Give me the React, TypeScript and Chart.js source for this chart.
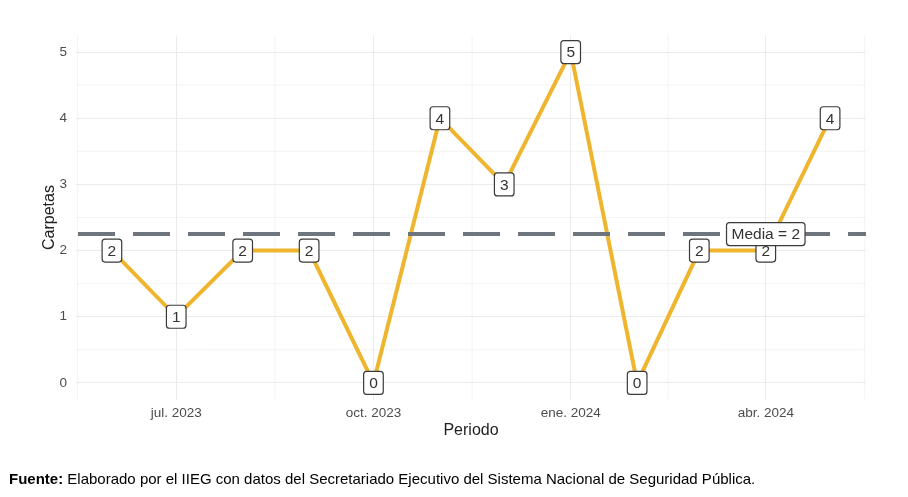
import React, { useEffect, useRef } from 'react';
import { Chart, registerables } from 'chart.js';

Chart.register(...registerables);

// ---- Data ----
const periodDates = [
  '2023-06-01', '2023-07-01', '2023-08-01', '2023-09-01', '2023-10-01', '2023-11-01',
  '2023-12-01', '2024-01-01', '2024-02-01', '2024-03-01', '2024-04-01', '2024-05-01',
];
const carpetas = [2, 1, 2, 2, 0, 4, 3, 5, 0, 2, 2, 4];
const xTickDates = ['2023-07-01', '2023-10-01', '2024-01-01', '2024-04-01'];
const xTickLabels = ['jul. 2023', 'oct. 2023', 'ene. 2024', 'abr. 2024'];
const yTicks = [0, 1, 2, 3, 4, 5];
const mediaLabel = 'Media = 2';
const mediaLabelDate = '2024-04-01';
const captionBold = 'Fuente:';
const captionText = ' Elaborado por el IIEG con datos del Secretariado Ejecutivo del Sistema Nacional de Seguridad Pública.';

const DAY = 86400000;
const t0 = Date.parse(periodDates[0]);
const toDay = (d: string) => (Date.parse(d) - t0) / DAY;
const xs = periodDates.map(toDay);
const xMajor = xTickDates.map(toDay);
const span = xs[xs.length - 1] - xs[0];
const xMin = xs[0] - span * 0.05;
const xMax = xs[xs.length - 1] + span * 0.05;
// minor breaks between majors (and extended on each side)
const xMinor: number[] = [];
{
  const step = xMajor[1] - xMajor[0];
  xMinor.push(xMajor[0] - step / 2);
  for (let i = 0; i < xMajor.length - 1; i++) xMinor.push((xMajor[i] + xMajor[i + 1]) / 2);
  xMinor.push(xMajor[xMajor.length - 1] + step / 2);
}
const yMinor = [0.5, 1.5, 2.5, 3.5, 4.5];
const mediaValue = carpetas.reduce((a, b) => a + b, 0) / carpetas.length;

const FONT = '"Liberation Sans", Arial, sans-serif';
const LINE_COLOR = '#F0B52E';
const GRID = '#ebebeb';

function roundRect(ctx: CanvasRenderingContext2D, x: number, y: number, w: number, h: number, r: number) {
  ctx.beginPath();
  ctx.moveTo(x + r, y);
  ctx.lineTo(x + w - r, y);
  ctx.quadraticCurveTo(x + w, y, x + w, y + r);
  ctx.lineTo(x + w, y + h - r);
  ctx.quadraticCurveTo(x + w, y + h, x + w - r, y + h);
  ctx.lineTo(x + r, y + h);
  ctx.quadraticCurveTo(x, y + h, x, y + h - r);
  ctx.lineTo(x, y + r);
  ctx.quadraticCurveTo(x, y, x + r, y);
  ctx.closePath();
}

function drawLabel(ctx: CanvasRenderingContext2D, text: string, cx: number, cy: number, size: number, padX: number, h: number) {
  ctx.font = `${size}px ${FONT}`;
  const w = ctx.measureText(text).width + padX * 2;
  roundRect(ctx, cx - w / 2, cy - h / 2, w, h, 3);
  ctx.fillStyle = '#ffffff';
  ctx.fill();
  ctx.lineWidth = 1.2;
  ctx.strokeStyle = '#3a3a3a';
  ctx.stroke();
  ctx.fillStyle = '#333333';
  ctx.textAlign = 'center';
  ctx.textBaseline = 'middle';
  ctx.fillText(text, cx, cy + 1);
}

const overlayPlugin = {
  id: 'overlay',
  beforeDraw(chart: any) {
    const { ctx, chartArea, scales } = chart;
    ctx.save();
    // minor grid lines
    ctx.strokeStyle = GRID;
    ctx.lineWidth = 0.6;
    for (const v of xMinor) {
      const x = scales.x.getPixelForValue(v);
      if (x < chartArea.left - 1 || x > chartArea.right + 1) continue;
      ctx.beginPath();
      ctx.moveTo(x, chartArea.top);
      ctx.lineTo(x, chartArea.bottom);
      ctx.stroke();
    }
    for (const v of yMinor) {
      const y = scales.y.getPixelForValue(v);
      ctx.beginPath();
      ctx.moveTo(chartArea.left, y);
      ctx.lineTo(chartArea.right, y);
      ctx.stroke();
    }
    ctx.restore();
  },
  afterDatasetsDraw(chart: any) {
    const { ctx, chartArea, scales } = chart;
    ctx.save();
    // mean dashed line
    const ym = scales.y.getPixelForValue(mediaValue);
    ctx.strokeStyle = '#6e757d';
    ctx.lineWidth = 4;
    ctx.setLineDash([37, 18]);
    ctx.beginPath();
    ctx.moveTo(chartArea.left + 2, ym);
    ctx.lineTo(chartArea.right, ym);
    ctx.stroke();
    ctx.setLineDash([]);
    // point labels
    const meta = chart.getDatasetMeta(0);
    meta.data.forEach((pt: any, i: number) => {
      drawLabel(ctx, String(carpetas[i]), pt.x, pt.y, 15.5, 5.5, 23);
    });
    // media label
    const xm = scales.x.getPixelForValue(toDay(mediaLabelDate));
    drawLabel(ctx, mediaLabel, xm, ym, 15.5, 5, 23);
    // caption
    ctx.textAlign = 'left';
    ctx.textBaseline = 'alphabetic';
    ctx.fillStyle = '#000000';
    ctx.font = `bold 15px ${FONT}`;
    ctx.fillText(captionBold, 9, 484);
    const bw = ctx.measureText(captionBold).width;
    ctx.font = `15px ${FONT}`;
    ctx.fillText(captionText, 9 + bw, 484);
    ctx.restore();
  },
};

export default function App() {
  const ref = useRef<HTMLCanvasElement>(null);
  useEffect(() => {
    if (!ref.current) return;
    const chart = new Chart(ref.current, {
      type: 'line',
      data: {
        datasets: [
          {
            data: xs.map((x, i) => ({ x, y: carpetas[i] })),
            borderColor: LINE_COLOR,
            borderWidth: 4,
            pointRadius: 0,
            tension: 0,
            fill: false,
          },
        ],
      },
      options: {
        animation: false,
        responsive: true,
        maintainAspectRatio: false,
        layout: { padding: { top: 35.5, right: 42, bottom: 52, left: 0 } },
        plugins: { legend: { display: false }, tooltip: { enabled: false } },
        scales: {
          x: {
            type: 'linear',
            min: xMin,
            max: xMax,
            afterBuildTicks: (scale: any) => {
              scale.ticks = xMajor.map((v) => ({ value: v }));
            },
            afterFit: (scale: any) => {
              scale.height = 45.5;
            },
            ticks: {
              autoSkip: false,
              maxRotation: 0,
              padding: 6,
              color: '#4d4d4d',
              font: { family: FONT, size: 13.5 },
              callback: (v: any) => {
                const i = xMajor.indexOf(Number(v));
                return i >= 0 ? xTickLabels[i] : '';
              },
            },
            grid: { color: GRID, lineWidth: 1, drawTicks: false },
            border: { display: false },
            title: {
              display: true,
              text: 'Periodo',
              color: '#222222',
              font: { family: FONT, size: 16 },
              padding: { top: 0, bottom: 5 },
            },
          },
          y: {
            type: 'linear',
            min: -0.25,
            max: 5.25,
            afterBuildTicks: (scale: any) => {
              scale.ticks = yTicks.map((v) => ({ value: v }));
            },
            afterFit: (scale: any) => {
              scale.width = 76;
            },
            ticks: {
              padding: 9,
              color: '#4d4d4d',
              font: { family: FONT, size: 13.5 },
              callback: (v: any) => String(v),
            },
            grid: { color: GRID, lineWidth: 1, drawTicks: false },
            border: { display: false },
            title: {
              display: true,
              text: 'Carpetas',
              color: '#222222',
              font: { family: FONT, size: 16 },
              padding: { top: 40.4, bottom: 0 },
            },
          },
        },
      },
      plugins: [overlayPlugin],
    });
    return () => chart.destroy();
  }, []);
  return (
    <div style={{ position: 'absolute', left: 0, top: 0, width: 908, height: 497, background: '#ffffff' }}>
      <canvas ref={ref} />
    </div>
  );
}
